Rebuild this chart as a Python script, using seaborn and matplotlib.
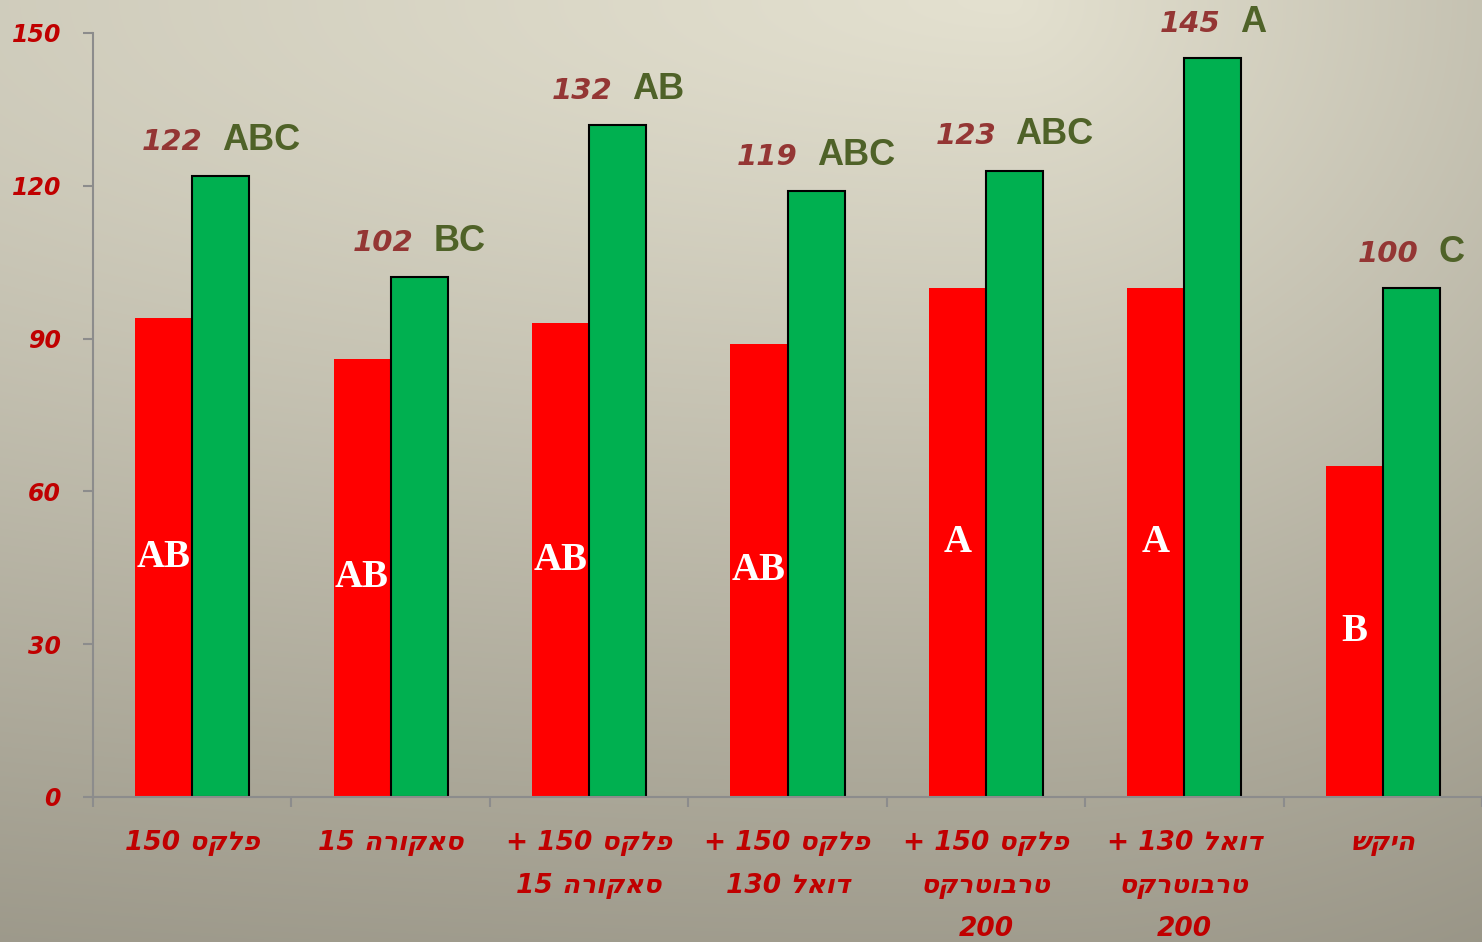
import re
import numpy as np
import pandas as pd
import matplotlib
matplotlib.use('Agg')
import matplotlib.pyplot as plt
import seaborn as sns
from matplotlib.offsetbox import TextArea, HPacker, AnnotationBbox

# data (logical order hebrew, flipped for display below)
labels = ['פלקס 150', 'סאקורה 15', 'פלקס 150 +\nסאקורה 15', 'פלקס 150 +\nדואל 130',
          'פלקס 150 +\nטרבוטרקס\n200', 'דואל 130 +\nטרבוטרקס\n200', 'היקש']
red_vals = [94, 86, 93, 89, 100, 100, 65]
green_vals = [122, 102, 132, 119, 123, 145, 100]
red_letters = ['AB', 'AB', 'AB', 'AB', 'A', 'A', 'B']
green_letters = ['ABC', 'BC', 'AB', 'ABC', 'ABC', 'A', 'C']
yticks = [0, 30, 60, 90, 120, 150]


def visual(s):
    # matplotlib has no bidi, so reverse hebrew lines but keep numbers readable
    out = []
    for line in s.split('\n'):
        r = line[::-1]
        r = re.sub(r'\d+', lambda m: m.group(0)[::-1], r)
        out.append(r)
    return '\n'.join(out)


sns.set_theme(style='white')
plt.rcParams['font.family'] = ['DejaVu Sans']

df = pd.DataFrame({'label': labels * 2,
                   'value': red_vals + green_vals,
                   'series': ['red'] * len(labels) + ['green'] * len(labels)})

fig = plt.figure(figsize=(14.82, 9.42), dpi=100)

# background gradient
bg = fig.add_axes([0, 0, 1, 1], zorder=-10)
h, w = 942, 1482
yy, xx = np.mgrid[0:1:h * 1j, 0:1:w * 1j]
dx = xx - 0.68
sx = np.where(dx < 0, 2.9, 0.9)
t = np.clip(np.sqrt((dx / sx) ** 2 + (yy / 1.27) ** 2), 0, 1)
light = np.array([228, 225, 208]) / 255
dark = np.array([142, 138, 124]) / 255
img = light + (dark - light) * t[..., None]
bg.imshow(img, aspect='auto', extent=[0, 1, 0, 1])
bg.axis('off')

ax = fig.add_axes([93 / 1482, 145 / 942, (1482 - 93) / 1482, (797 - 33) / 942])
ax.set_facecolor('none')

sns.barplot(data=df, x='label', y='value', hue='series', order=labels,
            hue_order=['red', 'green'], palette=['#FF0000', '#00B050'],
            width=0.575, gap=0, saturation=1, legend=False, ax=ax)

for bar in ax.containers[0]:
    bar.set_edgecolor('none')
    bar.set_linewidth(0)
for bar in ax.containers[1]:
    bar.set_edgecolor('black')
    bar.set_linewidth(1.5)

# letters inside red bars
for bar, v, let in zip(ax.containers[0], red_vals, red_letters):
    ax.text(bar.get_x() + bar.get_width() / 2, v / 2, let, ha='center', va='center',
            color='white', fontsize=28, fontweight='bold', family='Liberation Serif')

# value + letters above green bars
for bar, v, let in zip(ax.containers[1], green_vals, green_letters):
    num = TextArea(str(v), textprops=dict(color='#943634', fontsize=21, fontweight='bold',
                                          fontstyle='italic'))
    lt = TextArea(let, textprops=dict(color='#4F6228', fontsize=26, fontweight='bold',
                                      family='Liberation Sans'))
    box = HPacker(children=[num, lt], align='baseline', pad=0, sep=14)
    ab = AnnotationBbox(box, (bar.get_x() + bar.get_width() / 2, v), xycoords='data',
                        xybox=(0, 13), boxcoords='offset points', box_alignment=(0.5, 0),
                        frameon=False, pad=0, annotation_clip=False)
    ax.add_artist(ab)

ax.set_xlim(-0.5, len(labels) - 0.5)
ax.set_ylim(0, 150)
ax.set_xlabel('')
ax.set_ylabel('')

ax.set_yticks(yticks)
ax.set_yticklabels([str(v) for v in yticks], color='#C00000', fontsize=17,
                   fontweight='bold', fontstyle='italic')
ax.set_xticks(range(len(labels)))
ax.set_xticklabels([visual(l) for l in labels], color='#C00000', fontsize=19,
                   fontweight='bold', fontstyle='italic', linespacing=1.85,
                   multialignment='center')
ax.set_xticks(np.arange(-0.5, len(labels), 1), minor=True)

ax.tick_params(axis='y', length=7, width=1.5, color='#8C8C8C', pad=16, direction='out', left=True)
ax.tick_params(axis='x', which='major', length=0, pad=24, bottom=True)
ax.tick_params(axis='x', which='minor', length=7, width=1.5, color='#8C8C8C', direction='out', bottom=True)

for side in ['top', 'right']:
    ax.spines[side].set_visible(False)
for side in ['left', 'bottom']:
    ax.spines[side].set_color('#8C8C8C')
    ax.spines[side].set_linewidth(1.5)

fig.savefig('out.png', dpi=100)
